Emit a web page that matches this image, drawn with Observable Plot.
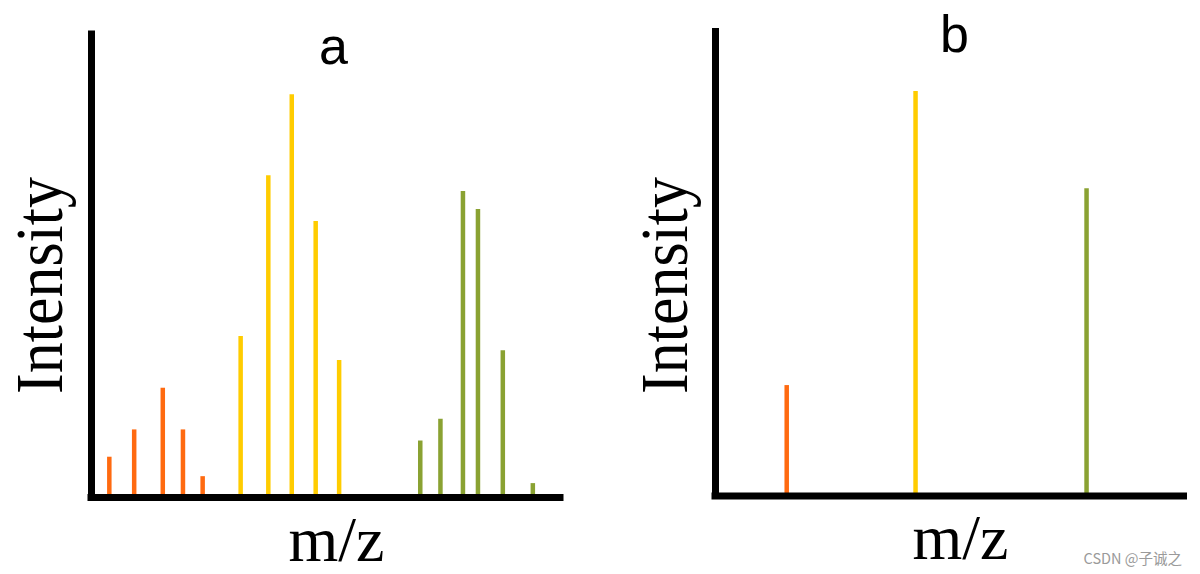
<!DOCTYPE html>
<html>
<head>
<meta charset="utf-8">
<script src="https://cdn.jsdelivr.net/npm/d3@7"></script>
<script src="https://cdn.jsdelivr.net/npm/@observablehq/plot@0.6"></script>
<style>
  html, body { margin: 0; padding: 0; background: #fff; }
  #wrap { position: relative; width: 1200px; height: 574px; overflow: hidden; }
  #pa, #pb { position: absolute; top: 0; }
  #pa { left: 0; }
  #pb { left: 600px; }
</style>
</head>
<body>
<div id="wrap"><div id="pa"></div><div id="pb"></div></div>
<script>
// Panel a: full isotope-like spectrum (arbitrary m/z units, relative intensity)
const mzA        = [3.8, 9.1, 15.2, 19.5, 23.7, 31.8, 37.7, 42.7, 47.8, 52.8, 70.1, 74.4, 79.2, 82.4, 87.7, 94.1];
const intensityA = [8.7, 14.6, 23.6, 14.6, 4.5, 34.8, 69.5, 87.0, 59.6, 29.6, 12.2, 16.9, 66.1, 62.2, 31.7, 3.0];
const groupA     = ["g1","g1","g1","g1","g1","g2","g2","g2","g2","g2","g3","g3","g3","g3","g3","g3"];

// Panel b: one peak per group
const mzB        = [15.2, 42.7, 79.2];
const intensityB = [23.8, 87.2, 66.2];
const groupB     = ["g1", "g2", "g3"];

const groups = ["g1", "g2", "g3"];
const groupColors = ["#FF6A10", "#FFCC00", "#8AA232"];

const titles = ["a", "b"];
const yLabel = "Intensity";
const xLabel = "m/z";
const watermark = "CSDN @子诚之";

const serif = "'Liberation Serif', 'DejaVu Serif', serif";
const sans = "'Liberation Sans', Arial, sans-serif";

function panel({mz, inten, grp, title, ml, mr, mt, mb, titleDx, titleDy, ylDx, ylDy, xlDx, xlDy, extra = []}) {
  const data = mz.map((m, i) => ({mz: m, intensity: inten[i], group: grp[i]}));
  const svg = Plot.plot({
    width: 600,
    height: 574,
    marginLeft: ml, marginRight: mr, marginTop: mt, marginBottom: mb,
    x: {domain: [0, 100], axis: null},
    y: {domain: [0, 100], axis: null},
    color: {domain: groups, range: groupColors},
    style: {background: "transparent"},
    marks: [
      Plot.ruleX(data, {x: "mz", y1: 0, y2: "intensity", stroke: "group", strokeWidth: 4.5}),
      Plot.ruleX([0], {y1: 0, y2: 100, stroke: "black", strokeWidth: 7, strokeLinecap: "square"}),
      Plot.ruleY([0], {x1: 0, x2: 100, stroke: "black", strokeWidth: 7, strokeLinecap: "square"}),
      Plot.text([title], {text: d => d, frameAnchor: "top-left", dx: titleDx, dy: titleDy,
        textAnchor: "middle", lineAnchor: "bottom", fontSize: 52, fontFamily: sans, fill: "black"}),
      Plot.text([yLabel], {text: d => d, frameAnchor: "left", dx: ylDx, dy: ylDy, rotate: -90,
        textAnchor: "middle", lineAnchor: "bottom", fontSize: 62, fontFamily: serif, fill: "black",
        className: "ylab"}),
      Plot.text([xLabel], {text: d => d, frameAnchor: "bottom", dx: xlDx, dy: xlDy,
        textAnchor: "middle", lineAnchor: "bottom", fontSize: 64, fontFamily: serif, fill: "black"}),
      ...extra
    ]
  });
  // the reference's rotated label is drawn slightly taller than its width suggests
  svg.querySelectorAll(".ylab text").forEach(t => {
    const tr = t.getAttribute("transform") || "";
    t.setAttribute("transform", tr + " scale(1,1.1)");
  });
  return svg;
}

document.getElementById("pa").appendChild(panel({
  mz: mzA, inten: intensityA, grp: groupA, title: titles[0],
  ml: 91, mr: 40, mt: 34, mb: 77,
  titleDx: 242, titleDy: 29,
  ylDx: -29.5, ylDy: 19.5,
  xlDx: 10.5, xlDy: 63
}));

document.getElementById("pb").appendChild(panel({
  mz: mzB, inten: intensityB, grp: groupB, title: titles[1],
  ml: 115, mr: 16.5, mt: 31.5, mb: 78.5,
  titleDx: 239, titleDy: 19.5,
  ylDx: -29, ylDy: 21.5,
  xlDx: 10.75, xlDy: 62.5,
  extra: [
    Plot.text([watermark], {text: d => d, frameAnchor: "bottom-right", dx: -2, dy: 68,
      textAnchor: "end", lineAnchor: "bottom", fontSize: 14.5,
      fontFamily: "'Noto Sans CJK SC', 'Noto Sans', sans-serif", fill: "#9a9a9a"})
  ]
}));
</script>
</body>
</html>
